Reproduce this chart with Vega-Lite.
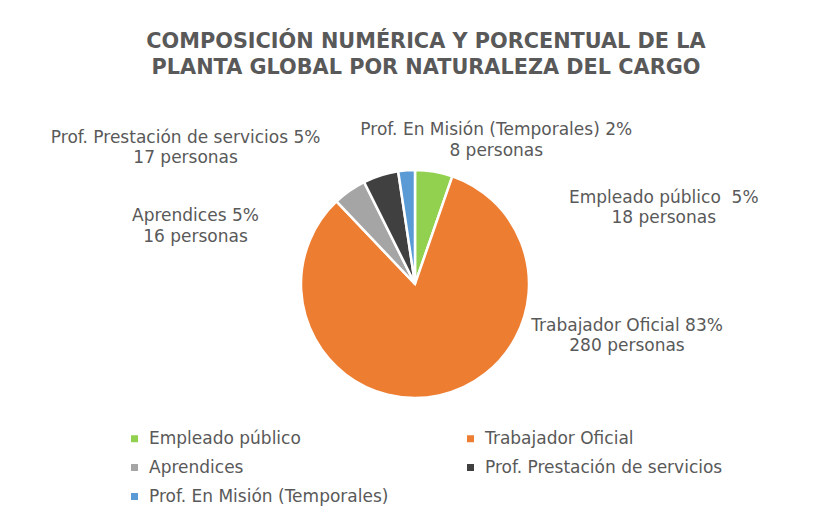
{
  "$schema": "https://vega.github.io/schema/vega-lite/v6.json",
  "width": 830,
  "height": 388,
  "autosize": "none",
  "padding": {"top": 90, "left": 0, "right": 2, "bottom": 38},
  "background": "white",
  "config": {"view": {"stroke": null}},
  "title": {
    "text": ["COMPOSICIÓN NUMÉRICA Y PORCENTUAL DE LA", "PLANTA GLOBAL POR NATURALEZA DEL CARGO"],
    "font": "DejaVu Sans",
    "fontSize": 20.8,
    "fontWeight": "bold",
    "color": "#595959",
    "anchor": "middle",
    "dx": 11,
    "lineHeight": 26,
    "offset": 11
  },
  "data": {
    "values": [
      {"orden": 1, "categoria": "Empleado público", "personas": 18, "etiqueta": ["Empleado público\u00a0 5%", "18 personas"]},
      {"orden": 2, "categoria": "Trabajador Oficial", "personas": 280, "etiqueta": ["Trabajador Oficial 83%", "280 personas"]},
      {"orden": 3, "categoria": "Aprendices", "personas": 16, "etiqueta": ["Aprendices 5%", "16 personas"]},
      {"orden": 4, "categoria": "Prof. Prestación de servicios", "personas": 17, "etiqueta": ["Prof. Prestación de servicios 5%", "17 personas"]},
      {"orden": 5, "categoria": "Prof. En Misión (Temporales)", "personas": 8, "etiqueta": ["Prof. En Misión (Temporales) 2%", "8 personas"]}
    ]
  },
  "encoding": {
    "theta": {"field": "personas", "type": "quantitative", "stack": true},
    "order": {"field": "orden", "type": "quantitative"}
  },
  "layer": [
    {
      "mark": {"type": "arc", "outerRadius": 114, "stroke": "white", "strokeWidth": 2.5},
      "encoding": {
        "color": {
          "field": "categoria",
          "type": "nominal",
          "scale": {
            "domain": ["Empleado público", "Trabajador Oficial", "Aprendices", "Prof. Prestación de servicios", "Prof. En Misión (Temporales)"],
            "range": ["#92D050", "#ED7D31", "#A5A5A5", "#404040", "#5B9BD5"]
          },
          "legend": {
            "title": null,
            "orient": "none",
            "legendX": 126,
            "legendY": 340,
            "columns": 2,
            "columnPadding": 73,
            "rowPadding": 11,
            "values": ["Empleado público", "Aprendices", "Prof. En Misión (Temporales)", "Trabajador Oficial", "Prof. Prestación de servicios"],
            "symbolType": "square",
            "symbolSize": 49,
            "symbolStrokeWidth": 0,
            "labelFont": "DejaVu Sans",
            "labelFontSize": 17,
            "labelColor": "#595959",
            "labelOffset": 6,
            "labelLimit": 400
          }
        }
      }
    },
    {
      "transform": [{"filter": "datum.orden == 1"}],
      "mark": {"type": "text", "radius": 125, "dx": 228, "dy": 37, "font": "DejaVu Sans", "fontSize": 17, "color": "#595959", "align": "center", "baseline": "middle", "lineHeight": 20.5},
      "encoding": {"text": {"field": "etiqueta"}}
    },
    {
      "transform": [{"filter": "datum.orden == 2"}],
      "mark": {"type": "text", "radius": 125, "dx": 147, "dy": -65, "font": "DejaVu Sans", "fontSize": 17, "color": "#595959", "align": "center", "baseline": "middle", "lineHeight": 20.5},
      "encoding": {"text": {"field": "etiqueta"}}
    },
    {
      "transform": [{"filter": "datum.orden == 3"}],
      "mark": {"type": "text", "radius": 125, "dx": -238, "dy": 56, "font": "DejaVu Sans", "fontSize": 17, "color": "#595959", "align": "center", "baseline": "middle", "lineHeight": 20.5},
      "encoding": {"text": {"field": "etiqueta"}}
    },
    {
      "transform": [{"filter": "datum.orden == 4"}],
      "mark": {"type": "text", "radius": 125, "dx": -249, "dy": -23, "font": "DejaVu Sans", "fontSize": 17, "color": "#595959", "align": "center", "baseline": "middle", "lineHeight": 20.5},
      "encoding": {"text": {"field": "etiqueta"}}
    },
    {
      "transform": [{"filter": "datum.orden == 5"}],
      "mark": {"type": "text", "radius": 125, "dx": 72, "dy": -29, "font": "DejaVu Sans", "fontSize": 17, "color": "#595959", "align": "center", "baseline": "middle", "lineHeight": 20.5},
      "encoding": {"text": {"field": "etiqueta"}}
    }
  ]
}
